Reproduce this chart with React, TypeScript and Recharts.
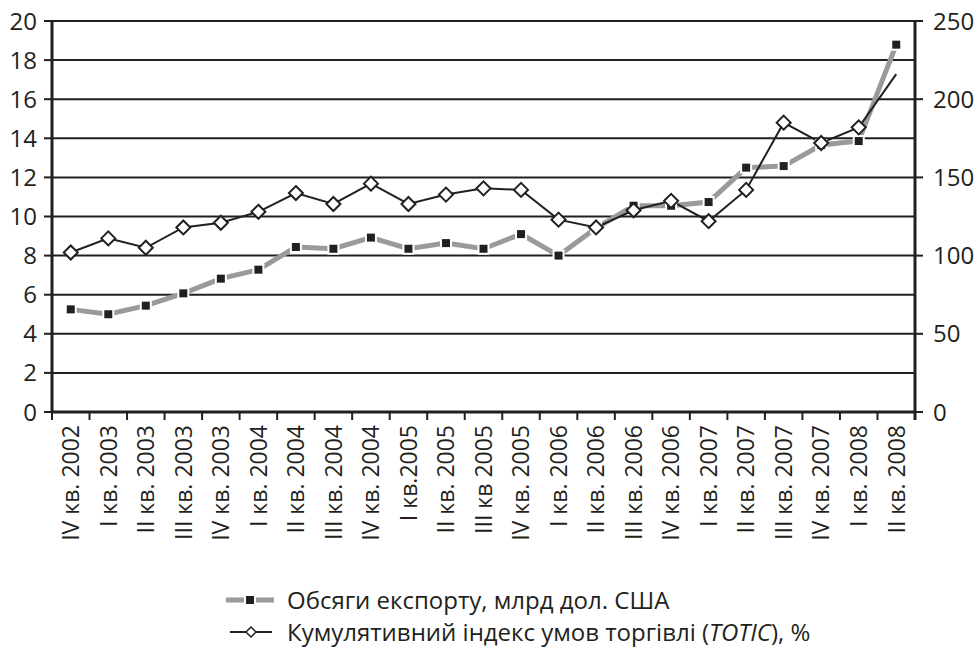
import React from 'react'
import { LineChart, Line, XAxis, YAxis, CartesianGrid, Legend } from 'recharts'

const quarters = [
  'IV кв. 2002', 'I кв. 2003', 'II кв. 2003', 'III кв. 2003', 'IV кв. 2003',
  'I кв. 2004', 'II кв. 2004', 'III кв. 2004', 'IV кв. 2004', 'I кв.2005',
  'II кв. 2005', 'III кв 2005', 'IV кв. 2005', 'I кв. 2006', 'II кв. 2006',
  'III кв. 2006', 'IV кв. 2006', 'I кв. 2007', 'II кв. 2007', 'III кв. 2007',
  'IV кв. 2007', 'I кв. 2008', 'II кв. 2008'
]

// обсяги експорту, млрд дол. США (ліва вісь)
const exportVolume = [
  5.25, 5.0, 5.44, 6.07, 6.82, 7.28, 8.44, 8.35, 8.92, 8.35, 8.64, 8.35,
  9.1, 8.0, 9.41, 10.55, 10.55, 10.74, 12.5, 12.58, 13.66, 13.86, 18.79
]

// кумулятивний індекс умов торгівлі, % (права вісь)
const totic = [
  102, 111, 105, 118, 121, 128, 140, 133, 146, 133, 139, 143,
  142, 123, 118, 129, 135, 122, 142, 185, 172, 182, 216
]

const leftTicks = [0, 2, 4, 6, 8, 10, 12, 14, 16, 18, 20]
const rightTicks = [0, 50, 100, 150, 200, 250]

const data = quarters.map((name, i) => ({ name, exportVolume: exportVolume[i], totic: totic[i] }))

const INK = '#231f20'
const GREY = '#9a9a9a'
const FONT = '"Open Sans", sans-serif'
const PLOT_LEFT = 52
const PLOT_RIGHT = 915
const BAND = (PLOT_RIGHT - PLOT_LEFT) / quarters.length

const QuarterTick = (props: any) => {
  const { x, y, payload, index } = props
  const isLast = index === quarters.length - 1
  return (
    <g transform={`translate(${x},${y})`}>
      <line x1={-BAND / 2} y1={0} x2={-BAND / 2} y2={8} stroke={INK} strokeWidth={2} />
      {isLast && <line x1={BAND / 2} y1={0} x2={BAND / 2} y2={8} stroke={INK} strokeWidth={3} />}
      <text
        transform="rotate(-90)"
        x={-13}
        y={0}
        dy="0.36em"
        textAnchor="end"
        fill={INK}
        fontSize={23}
        fontFamily={FONT}
      >
        {payload.value}
      </text>
    </g>
  )
}

const SquareDot = (props: any) => {
  const { cx, cy } = props
  if (cx == null || cy == null) return null
  return (
    <g>
      <rect x={cx - 6} y={cy - 6} width={12} height={12} fill="#fff" />
      <rect x={cx - 4} y={cy - 4} width={8} height={8} fill={INK} />
    </g>
  )
}

const DiamondDot = (props: any) => {
  const { cx, cy, index } = props
  if (cx == null || cy == null || index === totic.length - 1) return null
  const r = 7
  return (
    <path
      d={`M${cx},${cy - r} L${cx + r},${cy} L${cx},${cy + r} L${cx - r},${cy} Z`}
      fill="#fff"
      stroke={INK}
      strokeWidth={2}
    />
  )
}

const renderLegend = () => (
  <div style={{ height: 96, paddingLeft: 226, paddingTop: 32, boxSizing: 'border-box', fontFamily: FONT, fontSize: 24, color: INK }}>
    <div style={{ display: 'flex', alignItems: 'center', height: 33, lineHeight: '33px' }}>
      <svg width={48} height={14} style={{ marginRight: 13 }}>
        <line x1={0} y1={7} x2={48} y2={7} stroke={GREY} strokeWidth={5} />
        <rect x={18} y={1} width={12} height={12} fill="#fff" />
        <rect x={20} y={3} width={8} height={8} fill={INK} />
      </svg>
      <span>Обсяги експорту, млрд дол. США</span>
    </div>
    <div style={{ display: 'flex', alignItems: 'center', height: 31, lineHeight: '31px' }}>
      <svg width={48} height={16} style={{ marginRight: 13 }}>
        <line x1={4} y1={8} x2={46} y2={8} stroke={INK} strokeWidth={2} />
        <path d="M25,3 L30,8 L25,13 L20,8 Z" fill="#fff" stroke={INK} strokeWidth={1.5} />
      </svg>
      <span>
        Кумулятивний індекс умов торгівлі (<i>TOTIC</i>), %
      </span>
    </div>
  </div>
)

export default function App() {
  return (
    <div style={{ position: 'absolute', top: 0, left: 0, background: '#fff' }}>
      <LineChart width={979} height={647} data={data} margin={{ top: 21, right: 0, bottom: 0, left: 0 }}>
        <CartesianGrid yAxisId="left" horizontal vertical={false} stroke={INK} strokeWidth={2} />
        <XAxis
          dataKey="name"
          interval={0}
          height={139}
          padding={{ left: BAND / 2, right: BAND / 2 }}
          tickSize={0}
          tickMargin={0}
          tick={<QuarterTick />}
          axisLine={{ stroke: INK, strokeWidth: 3 }}
        />
        <YAxis
          yAxisId="left"
          domain={[0, 20]}
          ticks={leftTicks}
          width={52}
          tickSize={8}
          tickMargin={7}
          axisLine={{ stroke: INK, strokeWidth: 3 }}
          tickLine={{ stroke: INK, strokeWidth: 2 }}
          tick={{ fill: INK, fontSize: 24, fontFamily: FONT }}
        />
        <YAxis
          yAxisId="right"
          orientation="right"
          domain={[0, 250]}
          ticks={rightTicks}
          width={64}
          tickSize={8}
          tickMargin={10}
          axisLine={{ stroke: INK, strokeWidth: 3 }}
          tickLine={{ stroke: INK, strokeWidth: 2 }}
          tick={{ fill: INK, fontSize: 24, fontFamily: FONT, textAnchor: 'start' }}
        />
        <Legend verticalAlign="bottom" content={renderLegend} wrapperStyle={{ left: 0, width: 979 }} />
        <Line
          yAxisId="left"
          dataKey="exportVolume"
          stroke={GREY}
          strokeWidth={5}
          dot={<SquareDot />}
          activeDot={false}
          isAnimationActive={false}
        />
        <Line
          yAxisId="right"
          dataKey="totic"
          stroke={INK}
          strokeWidth={2}
          dot={<DiamondDot />}
          activeDot={false}
          isAnimationActive={false}
        />
      </LineChart>
    </div>
  )
}
